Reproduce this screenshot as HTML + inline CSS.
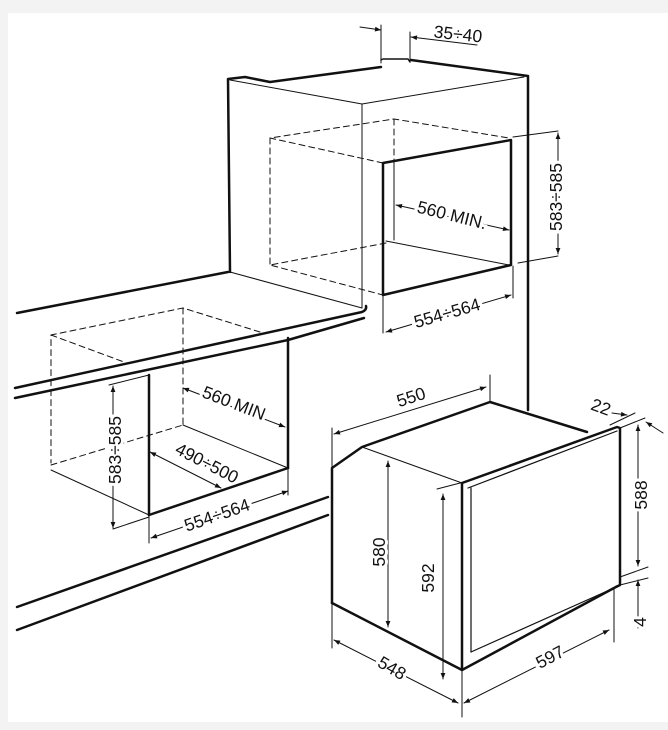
<!DOCTYPE html>
<html><head><meta charset="utf-8"><style>
html,body{margin:0;padding:0;background:#f3f3f3;}
svg{display:block;}
text{font-family:"Liberation Sans",sans-serif;font-size:17.5px;fill:#111;}
</style></head><body>
<svg width="668" height="730" viewBox="0 0 668 730" xmlns="http://www.w3.org/2000/svg">
<defs>
<marker id="a" viewBox="0 0 10 10" refX="10" refY="5" markerWidth="8" markerHeight="6" orient="auto-start-reverse"><path d="M0,1 L10,5 L0,9 z" fill="#111"/></marker>
</defs>
<rect x="8" y="13" width="660" height="709" fill="#fff"/>
<g stroke="#111" fill="none" stroke-linecap="round" stroke-linejoin="round">
<line x1="360" y1="27" x2="381" y2="30" stroke-width="1" marker-end="url(#a)"/>
<line x1="477" y1="45" x2="411" y2="37" stroke-width="1" marker-end="url(#a)"/>
<line x1="381" y1="25" x2="381" y2="63" stroke-width="1"/>
<line x1="410" y1="32" x2="410" y2="62" stroke-width="1"/>
<path d="M381,60 L383,59 L408,59 L410,62" stroke-width="1.5"/>
<path d="M230,272 L228,79 L245,77 L270,82 L381,67" stroke-width="2.5"/>
<path d="M411,60 L528,76 L528,410" stroke-width="2.5"/>
<path d="M230,80 L362,104 L524,77" stroke-width="1"/>
<line x1="362" y1="104" x2="362" y2="308" stroke-width="1"/>
<path d="M383,163 L511,140 L511,265 L383,295 Z" stroke-width="2.5"/>
<line x1="394" y1="163" x2="394" y2="240" stroke-width="1"/>
<line x1="386" y1="241" x2="509" y2="265" stroke-width="1"/>
<g stroke-dasharray="6,4" stroke-width="1">
<path d="M383,163 L270,138 L394,119 L509,138"/>
<line x1="394" y1="119" x2="394" y2="163"/>
<line x1="270" y1="138" x2="270" y2="265"/>
<path d="M386,243 L270,265 L383,295"/>
</g>
<line x1="396" y1="205" x2="509" y2="230" stroke-width="1" marker-start="url(#a)" marker-end="url(#a)"/>
<line x1="513" y1="137" x2="558" y2="131" stroke-width="1"/>
<line x1="518" y1="263" x2="558" y2="256" stroke-width="1"/>
<line x1="558" y1="133" x2="558" y2="254" stroke-width="1" marker-start="url(#a)" marker-end="url(#a)"/>
<line x1="383" y1="295" x2="383" y2="333" stroke-width="1"/>
<line x1="513" y1="266" x2="513" y2="298" stroke-width="1"/>
<line x1="386" y1="332" x2="511" y2="295" stroke-width="1" marker-start="url(#a)" marker-end="url(#a)"/>
<line x1="17" y1="313" x2="228" y2="272" stroke-width="2.5"/>
<line x1="230" y1="272" x2="362" y2="308" stroke-width="1"/>
<path d="M15,388 L362,312 Q367,310 366,306" stroke-width="2.5"/>
<path d="M15,398 L288,340 L364,318" stroke-width="2.5"/>
<line x1="149" y1="375" x2="149" y2="515" stroke-width="2.5"/>
<line x1="288" y1="338" x2="288" y2="468" stroke-width="2.5"/>
<line x1="149" y1="515" x2="288" y2="468" stroke-width="2.5"/>
<line x1="183" y1="425" x2="288" y2="468" stroke-width="1"/>
<line x1="51" y1="470" x2="149" y2="515" stroke-width="1"/>
<g stroke-dasharray="6,4" stroke-width="1">
<path d="M260,332 L183,308 L51,335 L51,463"/>
<line x1="51" y1="335" x2="124" y2="362"/>
<line x1="183" y1="308" x2="183" y2="425"/>
<line x1="51" y1="465" x2="183" y2="425"/>
</g>
<line x1="183" y1="388" x2="285" y2="427" stroke-width="1" marker-start="url(#a)" marker-end="url(#a)"/>
<line x1="150" y1="452" x2="221" y2="488" stroke-width="1" marker-start="url(#a)" marker-end="url(#a)"/>
<line x1="109" y1="385" x2="149" y2="375" stroke-width="1"/>
<line x1="113" y1="529" x2="149" y2="517" stroke-width="1"/>
<line x1="113" y1="386" x2="113" y2="528" stroke-width="1" marker-start="url(#a)" marker-end="url(#a)"/>
<line x1="149" y1="515" x2="149" y2="543" stroke-width="1"/>
<line x1="288" y1="468" x2="288" y2="495" stroke-width="1"/>
<line x1="151" y1="538" x2="288" y2="491" stroke-width="1" marker-start="url(#a)" marker-end="url(#a)"/>
<line x1="17" y1="607" x2="328" y2="497" stroke-width="2.5"/>
<line x1="17" y1="630" x2="328" y2="515" stroke-width="2.5"/>
<path d="M332,603 L332,468 L362,447 L490,402 L587,432" stroke-width="2.5"/>
<line x1="362" y1="447" x2="462" y2="483" stroke-width="1"/>
<path d="M462,483 L617,427 L620,428 L620,585 L614,588 L462,670 Z" stroke-width="2.5" fill="#fff"/>
<line x1="468" y1="488" x2="617" y2="431" stroke-width="1.2"/>
<line x1="471" y1="488" x2="471" y2="652" stroke-width="1.2"/>
<line x1="471" y1="652" x2="614" y2="588" stroke-width="1.2"/>
<line x1="332" y1="603" x2="462" y2="670" stroke-width="2.5"/>
<line x1="332" y1="428" x2="332" y2="468" stroke-width="1"/>
<line x1="490" y1="375" x2="490" y2="402" stroke-width="1"/>
<line x1="334" y1="434" x2="486" y2="387" stroke-width="1" marker-start="url(#a)" marker-end="url(#a)"/>
<line x1="388" y1="461" x2="388" y2="627" stroke-width="1" marker-start="url(#a)" marker-end="url(#a)"/>
<line x1="437" y1="489" x2="464" y2="482" stroke-width="1"/>
<line x1="443" y1="494" x2="443" y2="679" stroke-width="1" marker-start="url(#a)" marker-end="url(#a)"/>
<line x1="610" y1="425" x2="635" y2="413" stroke-width="1"/>
<line x1="620" y1="428" x2="645" y2="418" stroke-width="1"/>
<line x1="612" y1="413" x2="627" y2="415" stroke-width="1" marker-end="url(#a)"/>
<line x1="663" y1="433" x2="646" y2="422" stroke-width="1" marker-end="url(#a)"/>
<line x1="638" y1="425" x2="638" y2="566" stroke-width="1" marker-start="url(#a)" marker-end="url(#a)"/>
<line x1="620" y1="577" x2="648" y2="567" stroke-width="1"/>
<line x1="616" y1="586" x2="648" y2="578" stroke-width="1"/>
<line x1="638" y1="628" x2="638" y2="580" stroke-width="1" marker-end="url(#a)"/>
<line x1="332" y1="603" x2="332" y2="648" stroke-width="1"/>
<line x1="462" y1="670" x2="462" y2="717" stroke-width="1"/>
<line x1="614" y1="588" x2="614" y2="642" stroke-width="1"/>
<line x1="334" y1="640" x2="458" y2="703" stroke-width="1" marker-start="url(#a)" marker-end="url(#a)"/>
<line x1="464" y1="703" x2="609" y2="630" stroke-width="1" marker-start="url(#a)" marker-end="url(#a)"/>
</g>
<g stroke="#fff" stroke-width="6" paint-order="stroke">
<text x="458" y="40" text-anchor="middle" transform="rotate(6 458 34)" stroke="none">35÷40</text>
<text x="452" y="221" text-anchor="middle" transform="rotate(14 452 215)">560 MIN.</text>
<text x="556" y="203" text-anchor="middle" transform="rotate(-90 556 197)">583÷585</text>
<text x="447" y="319" text-anchor="middle" transform="rotate(-16 447 313)">554÷564</text>
<text x="234" y="409" text-anchor="middle" transform="rotate(21 234 403)">560 MIN</text>
<text x="207" y="469" text-anchor="middle" transform="rotate(27 207 463)">490÷500</text>
<text x="115" y="456" text-anchor="middle" transform="rotate(-90 115 450)">583÷585</text>
<text x="217" y="521" text-anchor="middle" transform="rotate(-19 217 515)">554÷564</text>
<text x="411" y="403" text-anchor="middle" transform="rotate(-18 411 397)" stroke="none">550</text>
<text x="379" y="558" text-anchor="middle" transform="rotate(-90 379 552)">580</text>
<text x="428" y="584" text-anchor="middle" transform="rotate(-90 428 578)">592</text>
<text x="641" y="501" text-anchor="middle" transform="rotate(-90 641 495)">588</text>
<text x="601" y="413" text-anchor="middle" transform="rotate(20 601 407)" stroke="none">22</text>
<text x="640" y="628" text-anchor="middle" transform="rotate(-90 640 622)">4</text>
<text x="392" y="674" text-anchor="middle" transform="rotate(30 392 668)">548</text>
<text x="550" y="663" text-anchor="middle" transform="rotate(-28 550 657)">597</text>
</g>
</svg>
</body></html>
